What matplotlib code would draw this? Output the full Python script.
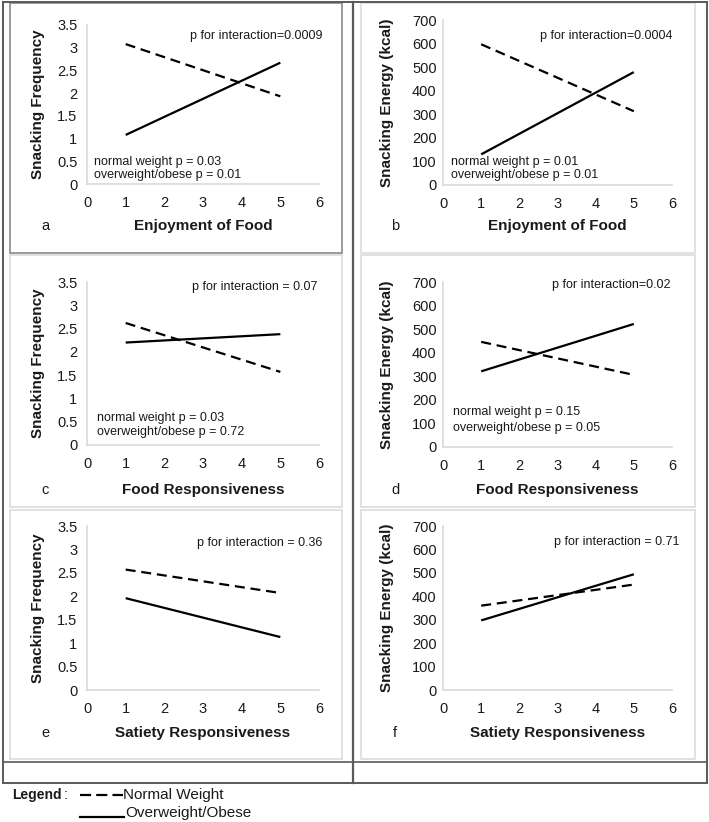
"""Snacking frequency / energy vs eating-behaviour scores, by weight status (6 panels)."""
import matplotlib
matplotlib.use("Agg")
import matplotlib.pyplot as plt
from matplotlib.lines import Line2D
from matplotlib.patches import Rectangle

plt.rcParams["font.family"] = ["Liberation Sans", "DejaVu Sans"]

W, H = 709, 822
X = [1, 5]

# values (end points of the fitted lines)
ENJOY_FREQ_NORMAL = [3.08, 1.93]
ENJOY_FREQ_OVER = [1.08, 2.67]
ENJOY_KCAL_NORMAL = [597, 313]
ENJOY_KCAL_OVER = [130, 479]
FOODRESP_FREQ_NORMAL = [2.62, 1.57]
FOODRESP_FREQ_OVER = [2.20, 2.38]
FOODRESP_KCAL_NORMAL = [446, 306]
FOODRESP_KCAL_OVER = [321, 522]
SATIETY_FREQ_NORMAL = [2.57, 2.07]
SATIETY_FREQ_OVER = [1.96, 1.13]
SATIETY_KCAL_NORMAL = [360, 450]
SATIETY_KCAL_OVER = [297, 494]

FREQ_TICKS = [0, 0.5, 1, 1.5, 2, 2.5, 3, 3.5]
FREQ_LABELS = ["0", "0.5", "1", "1.5", "2", "2.5", "3", "3.5"]
KCAL_TICKS = [0, 100, 200, 300, 400, 500, 600, 700]
X_TICKS = [0, 1, 2, 3, 4, 5, 6]

P_INTER = ["p for interaction=0.0009", "p for interaction=0.0004",
           "p for interaction = 0.07", "p for interaction=0.02",
           "p for interaction = 0.36", "p for interaction = 0.71"]
P_GROUP = [("normal weight p = 0.03", "overweight/obese p = 0.01"),
           ("normal weight p = 0.01", "overweight/obese p = 0.01"),
           ("normal weight p = 0.03", "overweight/obese p = 0.72"),
           ("normal weight p = 0.15", "overweight/obese p = 0.05"),
           None, None]
XLABELS = ["Enjoyment of Food"] * 2 + ["Food Responsiveness"] * 2 + ["Satiety Responsiveness"] * 2
LETTERS = ["a", "b", "c", "d", "e", "f"]

panels = [
    (ENJOY_FREQ_NORMAL, ENJOY_FREQ_OVER, "freq"),
    (ENJOY_KCAL_NORMAL, ENJOY_KCAL_OVER, "kcal"),
    (FOODRESP_FREQ_NORMAL, FOODRESP_FREQ_OVER, "freq"),
    (FOODRESP_KCAL_NORMAL, FOODRESP_KCAL_OVER, "kcal"),
    (SATIETY_FREQ_NORMAL, SATIETY_FREQ_OVER, "freq"),
    (SATIETY_KCAL_NORMAL, SATIETY_KCAL_OVER, "kcal"),
]

# layout, in pixels of the 709x822 image
AX_X = [(87, 319), (443, 672)]
AX_Y = [(25, 184), (20, 185), (282, 445), (282, 447), (526, 690), (526, 690)]
ROW_TOP = [3, 255, 510]
ROW_BOT = [253, 507, 759]
XLAB_Y = [226, 490, 733]
BOX_X = [(10, 342), (361, 695)]
YLAB_X = [38, 387]
LETTER_X = [45, 395]
PI_RIGHT = [322, 673, 318, 670, 322, 680]
PI_Y = [36, 36, 287, 285, 543, 542]
PG_LEFT = [94, 451, 97, 453]
PG_Y = [(162, 175), (162, 175), (418, 432), (412, 428)]

fx = lambda px: px / W
fy = lambda py: 1 - py / H

fig = plt.figure(figsize=(W / 100, H / 100), dpi=100)
TXT = "#1a1a1a"
GRID = "#d9d9d9"


def fline(x0, y0, x1, y1, **kw):
    fig.add_artist(Line2D([fx(x0), fx(x1)], [fy(y0), fy(y1)],
                          transform=fig.transFigure, **kw))


# panel boxes
for i in range(6):
    col, row = i % 2, i // 2
    x0, x1 = BOX_X[col]
    y0, y1 = ROW_TOP[row], ROW_BOT[row]
    ec = "#8a8a8a" if i == 0 else "#dcdcdc"
    fig.add_artist(Rectangle((fx(x0), fy(y1)), fx(x1) - fx(x0), fy(y0) - fy(y1),
                             transform=fig.transFigure, fill=False, ec=ec, lw=1.2))

# outer table
tc = "#5a5a5a"
fline(2.5, 2, 706.5, 2, color=tc, lw=1.4)
fline(2.5, 2, 2.5, 783, color=tc, lw=1.4)
fline(706.5, 2, 706.5, 783, color=tc, lw=1.4)
fline(353, 2, 353, 783, color=tc, lw=1.6)
fline(2.5, 762, 706.5, 762, color=tc, lw=1.2)
fline(2.5, 783, 706.5, 783, color=tc, lw=1.4)

for i, (normal, over, kind) in enumerate(panels):
    col, row = i % 2, i // 2
    l, r = AX_X[col]
    t, b = AX_Y[i]
    ax = fig.add_axes([fx(l), fy(b), (r - l) / W, (b - t) / H])
    ax.patch.set_alpha(0)
    ax.plot(X, normal, color="black", lw=1.6, dashes=(4.5, 2.6), solid_capstyle="butt")
    ax.plot(X, over, color="black", lw=1.6, solid_capstyle="butt")
    ax.set_xlim(0, 6)
    ax.set_xticks(X_TICKS)
    if kind == "freq":
        ax.set_ylim(0, 3.5)
        ax.set_yticks(FREQ_TICKS, FREQ_LABELS)
        ylab = "Snacking Frequency"
    else:
        ax.set_ylim(0, 700)
        ax.set_yticks(KCAL_TICKS)
        ylab = "Snacking Energy (kcal)"
    for s in ["top", "right"]:
        ax.spines[s].set_visible(False)
    for s in ["left", "bottom"]:
        ax.spines[s].set_color(GRID)
        ax.spines[s].set_linewidth(1.2)
    ax.tick_params(axis="x", length=0, pad=8.5, labelsize=10.5, colors=TXT)
    ax.tick_params(axis="y", length=0, pad=7 if col == 0 else 4.5, labelsize=10.5, colors=TXT)

    cy = (t + b) / 2
    fig.text(fx(YLAB_X[col]), fy(cy), ylab, rotation=90, ha="center", va="center",
             fontsize=11, fontweight="bold", color=TXT)
    fig.text(fx((l + r) / 2), fy(XLAB_Y[row]), XLABELS[i], ha="center", va="center",
             fontsize=11, fontweight="bold", color=TXT)
    fig.text(fx(LETTER_X[col]), fy(XLAB_Y[row]), LETTERS[i], ha="center", va="center",
             fontsize=10.5, color=TXT)
    fig.text(fx(PI_RIGHT[i]), fy(PI_Y[i]), P_INTER[i], ha="right", va="center",
             fontsize=9, color=TXT)
    if P_GROUP[i]:
        for txt, yy in zip(P_GROUP[i], PG_Y[i]):
            fig.text(fx(PG_LEFT[i]), fy(yy), txt, ha="left", va="center",
                     fontsize=9, color=TXT)

# legend drawn by hand, as in the source figure
fig.text(fx(12), fy(795), "Legend", ha="left", va="center", fontsize=10,
         fontweight="bold", color=TXT)
fig.text(fx(64), fy(795), ":", ha="left", va="center", fontsize=10.5, color=TXT)
fline(80, 795, 123, 795, color="black", lw=1.6, dashes=(5, 2.3), solid_capstyle="butt")
fig.text(fx(123), fy(795), "Normal Weight", ha="left", va="center", fontsize=11, color=TXT)
fline(80, 817, 124, 817, color="black", lw=1.6)
fig.text(fx(125), fy(813), "Overweight/Obese", ha="left", va="center", fontsize=11, color=TXT)

fig.savefig("out.png", dpi=100)
